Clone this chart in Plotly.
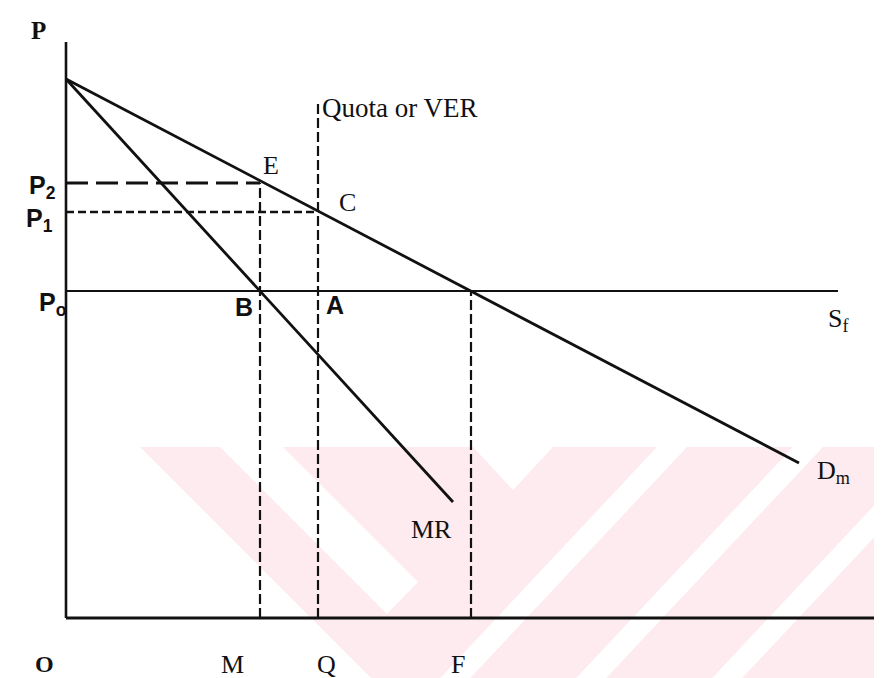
import plotly.graph_objects as go

# ---- data (economic diagram, arbitrary units) ----
p_intercept = 53.9
demand_q = [0, 73.3]
demand_p = [p_intercept, 15.5]
mr_q = [0, 38.7]
mr_p = [p_intercept, 11.6]
P0, P1, P2 = 32.7, 40.6, 43.5
M, Q, F = 19.4, 25.2, 40.5
quota_top = 51.8
sf_end = 77.2
axis_top = 57.6
axis_right = 81.6

INK = "#111111"
SERIF = "Liberation Serif"
HAND = "Liberation Sans"
PINK = "#fdebef"

# figure size (page has an 8px body margin)
W, H = 874, 670
OFF = 8

fig = go.Figure()

def line(xs, ys, width=2.6, dash="solid"):
    fig.add_trace(go.Scatter(x=xs, y=ys, mode="lines", hoverinfo="skip",
                             line=dict(color=INK, width=width, dash=dash),
                             showlegend=False))

# axes
line([0, 0], [0, axis_top], 2.6)
line([0, axis_right], [0, 0], 2.8)
# foreign supply Sf (horizontal at P0)
line([0, sf_end], [P0, P0], 2.2)
# demand and marginal revenue
line(demand_q, demand_p, 2.8)
line(mr_q, mr_p, 2.8)
# dashed price guides
line([0, M], [P2, P2], 3.0, "22px,8px")
line([0, Q], [P1, P1], 2.4, "8px,4px")
# dashed quantity guides
line([M, M], [0, P2], 2.2, "10px,4px")
line([Q, Q], [0, quota_top], 2.2, "10px,4px")
line([F, F], [0, P0], 2.2, "10px,4px")

def label(x, y, text, size=26, family=SERIF, xanchor="center"):
    fig.add_annotation(x=x, y=y, text=text, showarrow=False, xanchor=xanchor,
                       yanchor="middle", font=dict(family=family, size=size, color=INK))

label(-2.8, 58.8, "<b>P</b>", 25)
label(-2.4, 43.1, "<b>P<sub>2</sub></b>", 25, HAND)
label(-2.7, 39.8, "<b>P<sub>1</sub></b>", 25, HAND)
label(-1.4, 31.4, "<b>P<sub>o</sub></b>", 25, HAND)
label(20.5, 45.3, "E", 26)
label(28.1, 41.6, "C", 26)
label(17.8, 31.1, "<b>B</b>", 25, HAND)
label(26.9, 31.3, "<b>A</b>", 25, HAND)
label(25.4, 51.0, "Quota or VER", 27, xanchor="left")
label(77.2, 29.8, "S<sub>f</sub>", 26)
label(76.7, 14.6, "D<sub>m</sub>", 26)
label(36.5, 8.9, "MR", 26)
label(-2.2, -4.6, "<b>O</b>", 24)
label(16.6, -4.6, "M", 26)
label(26.0, -4.6, "Q", 26)
label(39.2, -4.6, "F", 26)

# ---- faint scanned watermark (decoration, page-pixel outline) ----
def px(pts):
    s = ""
    for i, (a, b) in enumerate(pts):
        xp = (a - OFF) / W
        yp = 1 - (b - OFF) / H
        s += ("M" if i == 0 else "L") + f"{xp:.4f},{yp:.4f}"
    return s + "Z"

wm_fill = [(140, 447), (900, 447), (900, 690), (383, 690)]
wm_holes = [
    [(220, 447), (283, 447), (418, 582), (387, 614)],
    [(473, 447), (553, 447), (513, 490)],
]
for x0 in (657, 793, 929):
    wm_holes.append([(x0, 447), (x0 + 30, 447), (x0 + 30 - 228, 690), (x0 - 228, 690)])

shapes = [dict(type="path", xref="paper", yref="paper", path=px(wm_fill),
               fillcolor=PINK, line=dict(width=0), layer="below")]
for h in wm_holes:
    shapes.append(dict(type="path", xref="paper", yref="paper", path=px(h),
                       fillcolor="white", line=dict(width=0), layer="below"))

fig.update_layout(
    width=W, height=H,
    margin=dict(l=0, r=0, t=0, b=0),
    paper_bgcolor="white", plot_bgcolor="rgba(0,0,0,0)",
    xaxis=dict(range=[-5.8, 81.6], visible=False, fixedrange=True),
    yaxis=dict(range=[-6.0, 61.0], visible=False, fixedrange=True),
    showlegend=False,
    shapes=shapes,
)

fig.write_html("out.html")
